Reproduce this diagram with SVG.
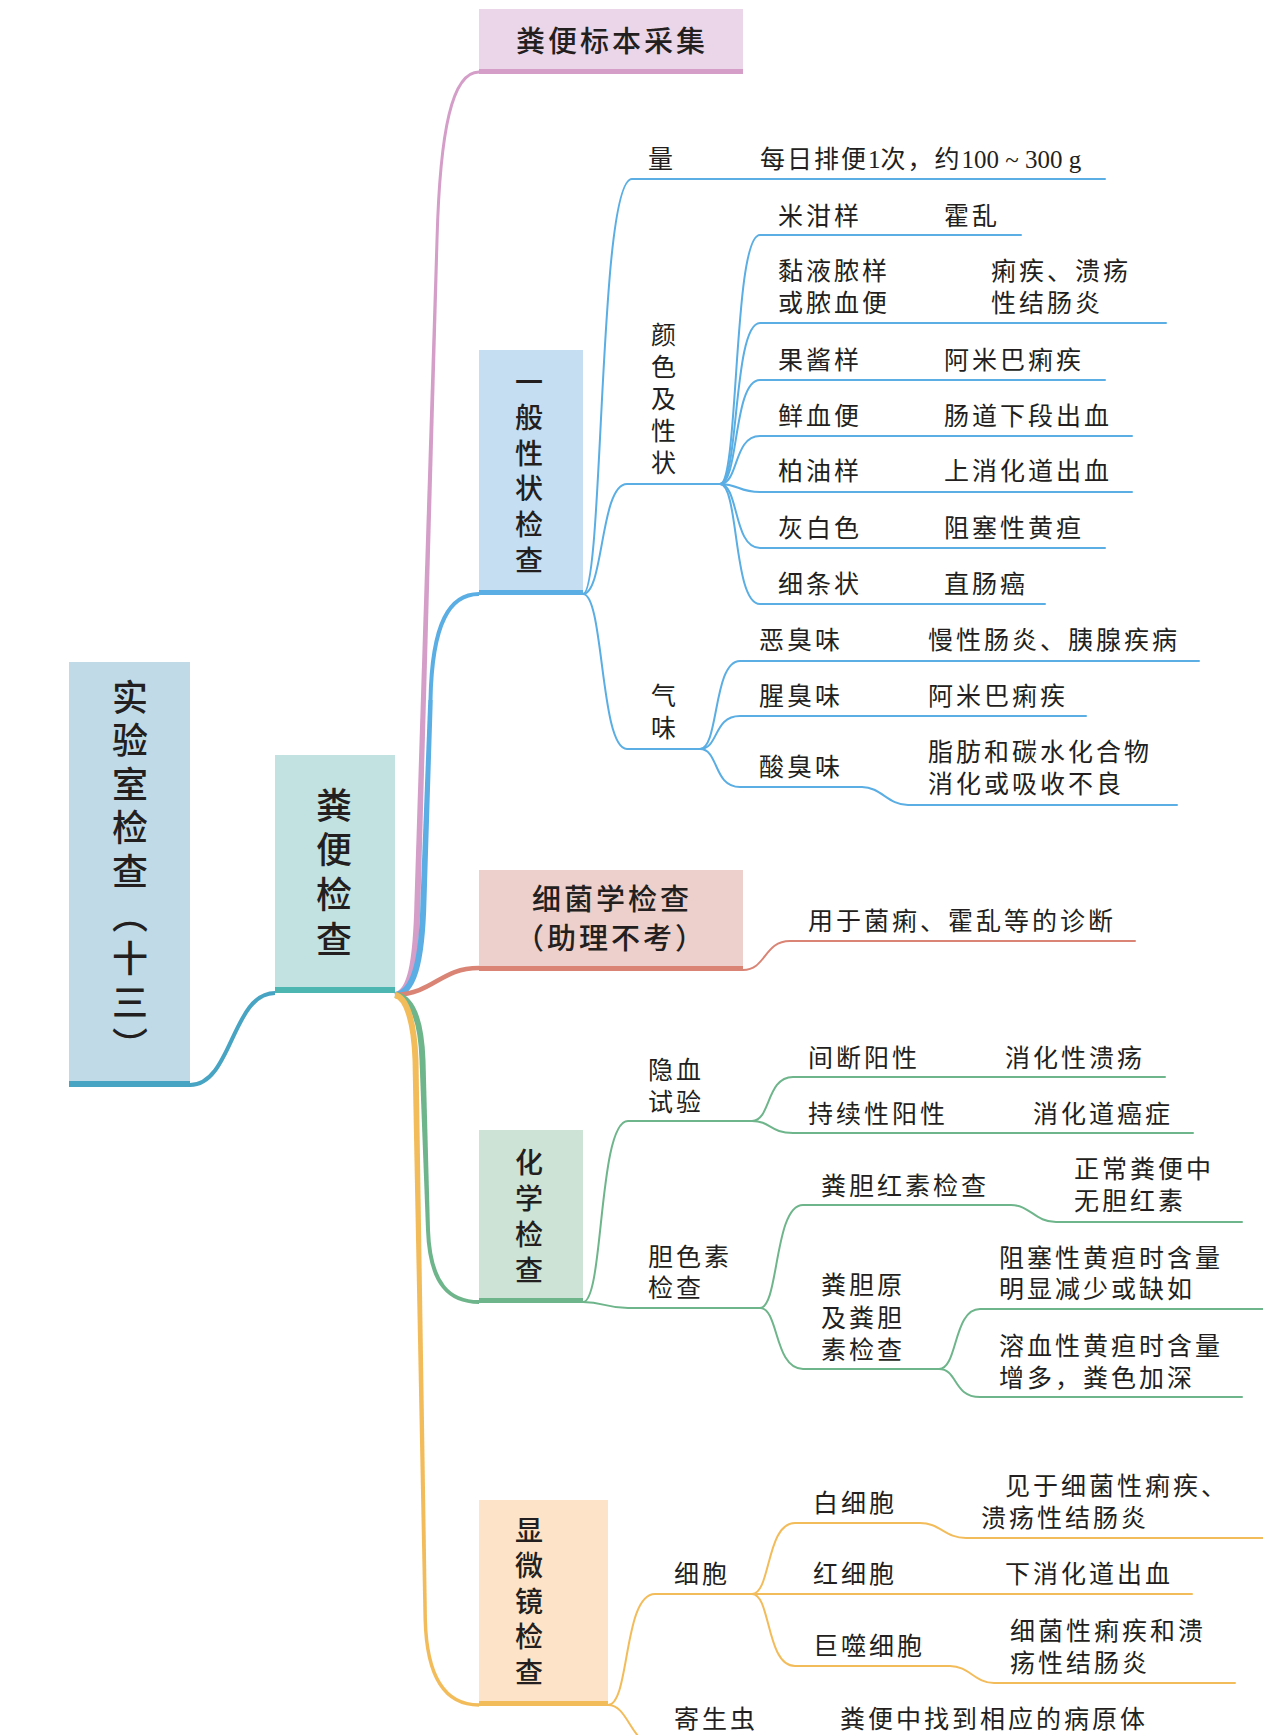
<svg xmlns="http://www.w3.org/2000/svg" width="1263" height="1735" viewBox="0 0 1263 1735">
<style>
  .t { font-family: "Liberation Serif", "Noto Sans CJK SC", serif; font-size: 25px; letter-spacing: 3px; fill: #231f20; }
  .hd { font-family: "Noto Sans CJK SC", "Liberation Sans", sans-serif; font-size: 29px; font-weight: 500; letter-spacing: 3px; fill: #231f20; }
  .vh { font-family: "Noto Sans CJK SC", "Liberation Sans", sans-serif; font-size: 28px; font-weight: 500; fill: #231f20; writing-mode: vertical-rl; }
  .vr { font-family: "Noto Sans CJK SC", serif; font-size: 36px; font-weight: 500; fill: #231f20; writing-mode: vertical-rl; }
  .vl { font-family: "Liberation Serif", "Noto Sans CJK SC", serif; font-size: 25px; fill: #231f20; writing-mode: vertical-rl; }
  .c { fill: none; stroke-width: 2; stroke-linecap: round; }
  .m { fill: none; stroke-linecap: butt; }
  .pk { stroke: #d49ec9; }
  .bl { stroke: #5aaee3; }
  .sa { stroke: #d98474; }
  .gr { stroke: #6fb58b; }
  .ye { stroke: #f3bc5b; }
  .rt { stroke: #47a4c2; }
  .fpk { fill: #d49ec9; }
  .fbl { fill: #5aaee3; }
  .fgr { fill: #6fb58b; }
  .fye { fill: #f3bc5b; }
</style>

<g id="connectors">
  <!-- root to 粪便检查 -->
  <path class="m rt" stroke-width="4" d="M190,1085 C232,1085 232,993 275,993"/>

  <!-- main branch: 粪便标本采集 (pink) -->
  <path class="m pk" stroke-width="6" d="M395,995 C410,993 416,965 417.5,900"/>
  <polygon class="fpk" points="414.5,900 420.5,900 438.5,240 435.5,240"/>
  <path class="m pk" stroke-width="3" d="M437,240 C440,130 452,72 479,72"/>

  <!-- main branch: 一般性状检查 (blue) -->
  <path class="m bl" stroke-width="6" d="M395,995 C413,993 422,965 423.5,900"/>
  <polygon class="fbl" points="420.5,900 426.5,900 432.75,700 428.25,700"/>
  <path class="m bl" stroke-width="4" d="M430.5,700 C432,622 450,594 479,594"/>

  <!-- main branch: 细菌学检查 (salmon) -->
  <path class="m sa" stroke-width="4.5" d="M395,995 C435,993 440,968 479,968"/>

  <!-- main branch: 化学检查 (green) -->
  <path class="m gr" stroke-width="6" d="M395,995 C412,997 421,1020 422.5,1060"/>
  <polygon class="fgr" points="419.5,1060 425.5,1060 430,1230 426,1230"/>
  <path class="m gr" stroke-width="4" d="M428,1230 C430,1285 450,1302 479,1302"/>

  <!-- main branch: 显微镜检查 (yellow) -->
  <path class="m ye" stroke-width="6" d="M395,995 C406,997 414,1020 415.5,1060"/>
  <polygon class="fye" points="412.5,1060 418.5,1060 427,1620 423.5,1620"/>
  <path class="m ye" stroke-width="3.5" d="M425.25,1620 C427,1685 450,1705 479,1705"/>

  <!-- 一般性状检查 subtree -->
  <path class="c bl" d="M583,594 C604,594 598,179 632,179 L1105,179"/>
  <path class="c bl" d="M583,594 C604,594 600,484 627,484 L720,484"/>
  <path class="c bl" d="M583,594 C604,594 600,749 627,749 L700,749"/>
  <path class="c bl" d="M720,484 C739,484 733,235 760,235 L1021,235"/>
  <path class="c bl" d="M720,484 C739,484 733,323 760,323 L1166,323"/>
  <path class="c bl" d="M720,484 C739,484 733,380 760,380 L1105,380"/>
  <path class="c bl" d="M720,484 C739,484 733,436 760,436 L1132,436"/>
  <path class="c bl" d="M720,484 C739,484 738,492 760,492 L1132,492"/>
  <path class="c bl" d="M720,484 C739,484 733,548 760,548 L1105,548"/>
  <path class="c bl" d="M720,484 C739,484 733,604 760,604 L1045,604"/>
  <path class="c bl" d="M700,749 C719,749 713,661 740,661 L1199,661"/>
  <path class="c bl" d="M700,749 C719,749 713,716 740,716 L1086,716"/>
  <path class="c bl" d="M700,749 C719,749 713,787 740,787 L862,787 C881,787 888,805 908,805 L1177,805"/>

  <!-- 细菌学检查 -->
  <path class="c sa" d="M743,970 C766,970 764,941 790,941 L1135,941"/>

  <!-- 化学检查 subtree -->
  <path class="c gr" d="M583,1302 C604,1302 598,1121 628,1121 L752,1121"/>
  <path class="c gr" d="M583,1302 C604,1302 605,1308 628,1308 L760,1308"/>
  <path class="c gr" d="M752,1121 C771,1121 766,1077 793,1077 L1165,1077"/>
  <path class="c gr" d="M752,1121 C771,1121 770,1133 793,1133 L1193,1133"/>
  <path class="c gr" d="M760,1308 C779,1308 774,1205 803,1205 L1011,1205 C1030,1205 1035,1222 1056,1222 L1242,1222"/>
  <path class="c gr" d="M760,1308 C779,1308 774,1369 803,1369 L939,1369"/>
  <path class="c gr" d="M939,1369 C958,1369 953,1309 980,1309 L1263,1309"/>
  <path class="c gr" d="M939,1369 C958,1369 953,1397 980,1397 L1242,1397"/>

  <!-- 显微镜检查 subtree -->
  <path class="c ye" d="M608,1705 C630,1705 623,1594 655,1594 L752,1594"/>
  <path class="c ye" d="M608,1705 C630,1705 630,1748 662,1748 L1200,1748"/>
  <path class="c ye" d="M752,1594 C771,1594 766,1523 795,1523 L920,1523 C940,1523 945,1538 966,1538 L1263,1538"/>
  <path class="c ye" d="M752,1594 L1192,1594"/>
  <path class="c ye" d="M752,1594 C771,1594 766,1666 795,1666 L950,1666 C969,1666 975,1683 994,1683 L1235,1683"/>
</g>

<g id="root">
  <rect x="69" y="662" width="121" height="425" fill="#c0dbe7"/>
  <rect x="69" y="1081" width="121" height="6" fill="#47a4c2"/>
  <text class="vr" x="130" y="679" letter-spacing="7.6">实验室检查（十三）</text>
</g>

<g id="fenbian">
  <rect x="275" y="755" width="120" height="238" fill="#c2e1e1"/>
  <rect x="275" y="987" width="120" height="6" fill="#4db6b1"/>
  <text class="vr" x="334" y="787" letter-spacing="8.7">粪便检查</text>
</g>

<g id="caiji">
  <rect x="479" y="9" width="264" height="64" fill="#ebd6e9"/>
  <rect x="479" y="69" width="264" height="5" fill="#d49ec9"/>
  <text class="hd" x="612" y="52" text-anchor="middle">粪便标本采集</text>
</g>

<g id="yiban">
  <rect x="479" y="350" width="104" height="244" fill="#c6def2"/>
  <rect x="479" y="590" width="104" height="5" fill="#5aaee3"/>
  <text class="vh" x="529" y="368" letter-spacing="7.6">一般性状检查</text>
</g>

<g id="xijun">
  <rect x="479" y="870" width="264" height="100" fill="#edd0cb"/>
  <rect x="479" y="966" width="264" height="5" fill="#d98474"/>
  <text class="hd" x="612" y="910" text-anchor="middle">细菌学检查</text>
  <text class="hd" x="611" y="949" text-anchor="middle" letter-spacing="0">（助理不考）</text>
</g>

<g id="huaxue">
  <rect x="479" y="1130" width="104" height="172" fill="#cce3d6"/>
  <rect x="479" y="1298" width="104" height="5" fill="#6fb58b"/>
  <text class="vh" x="529" y="1148" letter-spacing="8">化学检查</text>
</g>

<g id="xianwei">
  <rect x="479" y="1500" width="129" height="205" fill="#fde3c7"/>
  <rect x="479" y="1701" width="129" height="5" fill="#f3bc5b"/>
  <text class="vh" x="529" y="1516" letter-spacing="7.5">显微镜检查</text>
</g>

<g id="yiban-items">
  <text class="t" x="648" y="167.5">量</text>
  <text class="t" y="167.5"><tspan x="760" letter-spacing="2">每日排便</tspan><tspan letter-spacing="0">1</tspan><tspan letter-spacing="2">次，约</tspan><tspan letter-spacing="0">100 ~ 300 g</tspan></text>
  <text class="vl" x="661" y="321.5" letter-spacing="7.2">颜色及性状</text>
  <text class="t" x="778" y="224.5">米泔样</text>
  <text class="t" x="944" y="224.5">霍乱</text>
  <text class="t" x="778" y="279.5">黏液脓样</text>
  <text class="t" x="778" y="311.5">或脓血便</text>
  <text class="t" x="991" y="279.5">痢疾、溃疡</text>
  <text class="t" x="991" y="311.5">性结肠炎</text>
  <text class="t" x="778" y="368.5">果酱样</text>
  <text class="t" x="944" y="368.5">阿米巴痢疾</text>
  <text class="t" x="778" y="424.5">鲜血便</text>
  <text class="t" x="944" y="424.5">肠道下段出血</text>
  <text class="t" x="778" y="479.5">柏油样</text>
  <text class="t" x="944" y="479.5">上消化道出血</text>
  <text class="t" x="778" y="536.5">灰白色</text>
  <text class="t" x="944" y="536.5">阻塞性黄疸</text>
  <text class="t" x="778" y="592.5">细条状</text>
  <text class="t" x="944" y="592.5">直肠癌</text>
  <text class="vl" x="661" y="682.5" letter-spacing="7">气味</text>
  <text class="t" x="759" y="648.5">恶臭味</text>
  <text class="t" x="928" y="648.5">慢性肠炎、胰腺疾病</text>
  <text class="t" x="759" y="704.5">腥臭味</text>
  <text class="t" x="928" y="704.5">阿米巴痢疾</text>
  <text class="t" x="759" y="775.5">酸臭味</text>
  <text class="t" x="928" y="760.5">脂肪和碳水化合物</text>
  <text class="t" x="928" y="792.5">消化或吸收不良</text>
</g>

<g id="xijun-items">
  <text class="t" x="808" y="929.5">用于菌痢、霍乱等的诊断</text>
</g>

<g id="huaxue-items">
  <text class="t" x="648" y="1078.5">隐血</text>
  <text class="t" x="648" y="1110.5">试验</text>
  <text class="t" x="808" y="1066.5">间断阳性</text>
  <text class="t" x="1005" y="1066.5">消化性溃疡</text>
  <text class="t" x="808" y="1122.5">持续性阳性</text>
  <text class="t" x="1033" y="1122.5">消化道癌症</text>
  <text class="t" x="648" y="1265.5">胆色素</text>
  <text class="t" x="648" y="1296.5">检查</text>
  <text class="t" x="821" y="1194.5">粪胆红素检查</text>
  <text class="t" x="1074" y="1177.5">正常粪便中</text>
  <text class="t" x="1074" y="1209.5">无胆红素</text>
  <text class="t" x="821" y="1293.5">粪胆原</text>
  <text class="t" x="821" y="1326.5">及粪胆</text>
  <text class="t" x="821" y="1358.5">素检查</text>
  <text class="t" x="999" y="1266.5">阻塞性黄疸时含量</text>
  <text class="t" x="999" y="1297.5">明显减少或缺如</text>
  <text class="t" x="999" y="1354.5">溶血性黄疸时含量</text>
  <text class="t" x="999" y="1386.5">增多，粪色加深</text>
</g>

<g id="xianwei-items">
  <text class="t" x="674" y="1582.5">细胞</text>
  <text class="t" x="813" y="1511.5">白细胞</text>
  <text class="t" x="1005" y="1494.5">见于细菌性痢疾、</text>
  <text class="t" x="981" y="1526.5">溃疡性结肠炎</text>
  <text class="t" x="813" y="1582.5">红细胞</text>
  <text class="t" x="1005" y="1582.5">下消化道出血</text>
  <text class="t" x="813" y="1654.5">巨噬细胞</text>
  <text class="t" x="1010" y="1639.5">细菌性痢疾和溃</text>
  <text class="t" x="1010" y="1671.5">疡性结肠炎</text>
  <text class="t" x="674" y="1727.5">寄生虫</text>
  <text class="t" x="840" y="1727.5">粪便中找到相应的病原体</text>
</g>
</svg>
